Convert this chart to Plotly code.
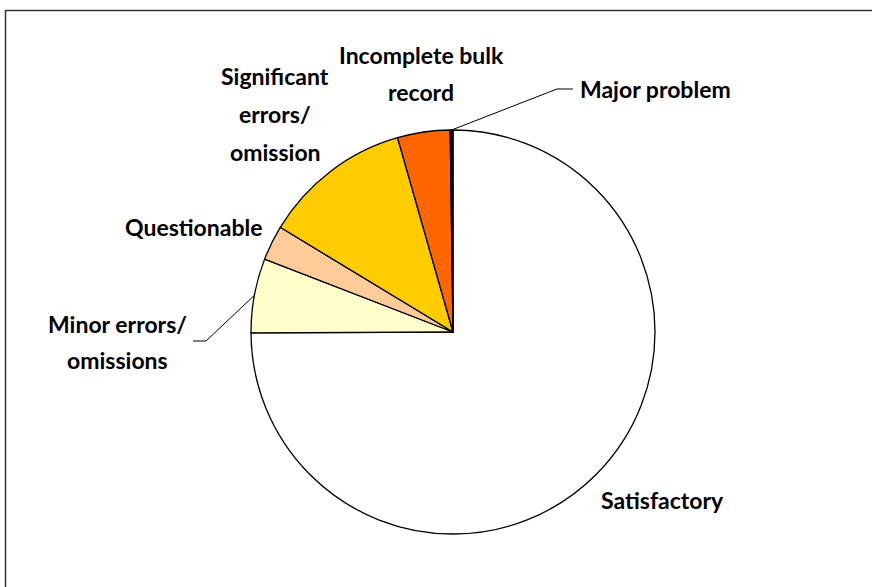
import math
import plotly.graph_objects as go

W, H = 872, 587
OFF = 0

categories = ["Satisfactory", "Minor errors/ omissions", "Questionable",
              "Significant errors/ omission", "Incomplete bulk record", "Major problem"]
values = [74.9, 5.93, 2.8, 11.9, 4.2, 0.22]
colors = ["#FFFFFF", "#FFFFCC", "#FFCC99", "#FFCC00", "#FF6600", "#000000"]

# pie geometry in screen pixels
CX, CY, R = 453, 332, 202

def px(x):
    return (x - OFF) / W

def py(y):
    return 1 - (y - OFF) / H

fig = go.Figure(go.Pie(
    labels=categories, values=values, sort=False, direction="clockwise", rotation=0,
    marker=dict(colors=colors, line=dict(color="#000000", width=1.3)),
    textinfo="none", hoverinfo="label+percent", showlegend=False,
    domain=dict(x=[px(CX - R), px(CX + R)], y=[py(CY + R), py(CY - R)]),
))

font = dict(family="Lato, 'Open Sans', sans-serif", size=23, color="#000000")

def label(lines, cx, ys):
    for t, y in zip(lines, ys):
        fig.add_annotation(x=px(cx), y=py(y), xref="paper", yref="paper",
                           text="<b>%s</b>" % t, showarrow=False, font=font,
                           xanchor="center", yanchor="middle")

label(["Incomplete bulk", "record"], 421, [55, 92])
label(["Significant", "errors/", "omission"], 275, [76, 114, 152])
label(["Questionable"], 194, [227])
label(["Minor errors/", "omissions"], 117, [324, 360])
label(["Major problem"], 655, [89])
label(["Satisfactory"], 662, [500])

# leader lines from slice mid-angles
total = sum(values)
cum = 0
mids = {}
for c, v in zip(categories, values):
    mids[c] = (cum + v / 2) / total * 2 * math.pi
    cum += v

def edge(c):
    a = mids[c]
    return CX + R * math.sin(a), CY - R * math.cos(a)

def leader(c, elbow, end):
    x0, y0 = edge(c)
    pts = [(x0, y0), elbow, end]
    path = "M " + " L ".join("%f,%f" % (px(x), py(y)) for x, y in pts)
    fig.add_shape(type="path", path=path, xref="paper", yref="paper",
                  line=dict(color="#000000", width=1))

leader("Major problem", (557, 89), (573, 89))
leader("Minor errors/ omissions", (206, 341), (193, 341))

# chart frame
fig.add_shape(type="rect", xref="paper", yref="paper",
              x0=px(5.5), y0=py(600), x1=px(890), y1=py(10.5),
              line=dict(color="#333333", width=1.5))

fig.update_layout(width=W, height=H, margin=dict(l=0, r=0, t=0, b=0),
                  paper_bgcolor="#FFFFFF", plot_bgcolor="#FFFFFF")

fig.write_html("out.html", config={"displayModeBar": False},
               post_script="document.body.style.margin='0px';document.body.style.overflow='hidden';")
